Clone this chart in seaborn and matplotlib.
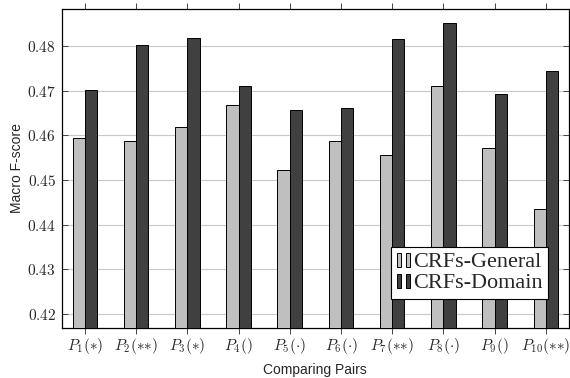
import pandas as pd
import numpy as np
import matplotlib
matplotlib.use('Agg')
import matplotlib.pyplot as plt
import seaborn as sns
from matplotlib.patches import Patch
from matplotlib.legend_handler import HandlerTuple

# data
pairs = [r'$P_1({*})$', r'$P_2({*}{*})$', r'$P_3({*})$', r'$P_4()$', r'$P_5(\cdot)$',
         r'$P_6(\cdot)$', r'$P_7({*}{*})$', r'$P_8(\cdot)$', r'$P_9()$', r'$P_{10}({*}{*})$']
crf_general = [0.4593, 0.4588, 0.4619, 0.4669, 0.4522, 0.4588, 0.4555, 0.4710, 0.4572, 0.4436]
crf_domain = [0.4701, 0.4803, 0.4818, 0.4711, 0.4656, 0.4662, 0.4815, 0.4851, 0.4692, 0.4745]
systems = ['CRFs-General', 'CRFs-Domain']
yticks = [0.42, 0.43, 0.44, 0.45, 0.46, 0.47, 0.48]

df = pd.DataFrame({
    'Pair': pairs * 2,
    'System': [systems[0]] * len(pairs) + [systems[1]] * len(pairs),
    'Score': crf_general + crf_domain,
})

sns.set_style('white')
plt.rcParams['mathtext.fontset'] = 'cm'
plt.rcParams['font.family'] = ['Liberation Sans', 'DejaVu Sans']

colors = {'CRFs-General': '#bfbfbf', 'CRFs-Domain': '#404040'}

fig = plt.figure(figsize=(5.7, 3.78), dpi=100)
ax = fig.add_axes([0.108, 0.133, 0.890, 0.843])

sns.barplot(data=df, x='Pair', y='Score', hue='System', palette=colors,
            width=0.48, edgecolor='black', linewidth=0.7, ax=ax, zorder=3)

ax.set_ylim(0.4169, 0.4883)
ax.set_xlim(-0.455, 9.45)
ax.set_yticks(yticks)
ax.set_yticklabels([r'$%.2f$' % t for t in yticks], fontsize=11)
ax.set_xticks(range(len(pairs)))
ax.set_xticklabels(pairs, fontsize=11)

ax.yaxis.grid(True, color='#c8c8c8', linewidth=0.8, zorder=0)
ax.set_axisbelow(True)
for s in ax.spines.values():
    s.set_color('black')
    s.set_linewidth(0.9)
    s.set_visible(True)

ax.tick_params(axis='x', direction='out', length=4, width=0.7, top=True, bottom=True,
               color='#444444', pad=2)
ax.tick_params(axis='y', direction='in', length=4, width=0.7, left=True, right=True,
               color='#444444', pad=4)

ax.set_xlabel('Comparing Pairs', fontsize=10, labelpad=5)
ax.set_ylabel('Macro F-score', fontsize=10, labelpad=2)

ax.get_legend().remove()
handles = [(Patch(facecolor=colors[s], edgecolor='black', linewidth=0.7),
            Patch(facecolor=colors[s], edgecolor='black', linewidth=0.7)) for s in systems]
leg = ax.legend(handles, systems, loc='lower right', bbox_to_anchor=(0.9586, 0.090),
                borderaxespad=0, fancybox=False, framealpha=1, edgecolor='black',
                prop={'family': 'Liberation Serif', 'size': 16},
                handler_map={tuple: HandlerTuple(ndivide=None, pad=0.2)},
                handlelength=0.6, handleheight=0.6, handletextpad=0.12,
                labelspacing=0.05, borderpad=0.25)
leg.get_frame().set_linewidth(0.8)
leg.set_zorder(5)

plt.savefig('out.png', dpi=100)
